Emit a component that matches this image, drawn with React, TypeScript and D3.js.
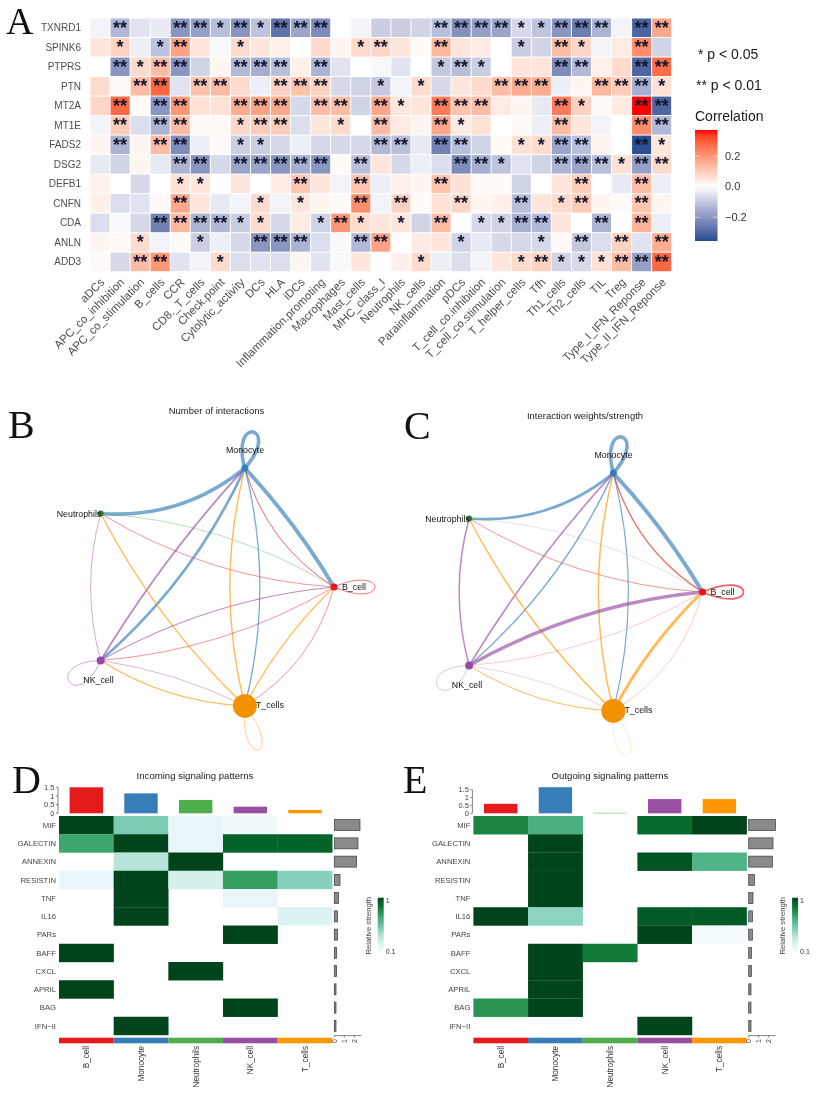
import React from "react";
import * as d3 from "d3";

// ---------- Panel A data ----------
const geneRows = ["TXNRD1","SPINK6","PTPRS","PTN","MT2A","MT1E","FADS2","DSG2","DEFB1","CNFN","CDA","ANLN","ADD3"];
const immuneCols = ["aDCs","APC_co_inhibition","APC_co_stimulation","B_cells","CCR","CD8._T_cells","Check.point","Cytolytic_activity","DCs","HLA","iDCs","Inflammation.promoting","Macrophages","Mast_cells","MHC_class_I","Neutrophils","NK_cells","Parainflammation","pDCs","T_cell_co.inhibition","T_cell_co.stimulation","T_helper_cells","Tfh","Th1_cells","Th2_cells","TIL","Treg","Type_I_IFN_Reponse","Type_II_IFN_Reponse"];

const TXNRD1 = [-0.02,-0.13,-0.05,-0.04,-0.2,-0.18,-0.12,-0.2,-0.11,-0.27,-0.17,-0.22,0,-0.02,-0.09,-0.09,-0.08,-0.12,-0.21,-0.18,-0.17,-0.07,-0.11,-0.2,-0.25,-0.14,-0.02,-0.3,0.17];
const SPINK6 = [0.05,0.09,-0.03,-0.11,0.18,0.05,-0.01,0.07,0.05,0.03,0,0.07,0.02,0.07,0.08,0.05,0.01,0.14,0.05,0.04,0,-0.09,-0.08,0.13,0.08,-0.02,0.04,0.22,-0.08];
const PTPRS = [0,-0.2,0.07,0.13,-0.2,-0.08,0.02,-0.13,-0.15,-0.12,0.03,-0.14,-0.05,0,-0.01,-0.05,0,-0.1,-0.12,-0.09,0,0.05,0.05,-0.22,-0.13,0.03,0.07,-0.3,0.27];
const PTN = [0.07,0.01,0.13,0.28,-0.05,0.12,0.13,0.07,-0.03,0.09,0.12,0.09,-0.07,-0.08,-0.1,-0.02,0.07,-0.07,0.05,0.07,0.13,0.16,0.16,-0.03,0.02,0.14,0.1,-0.15,0.06];
const MT2A = [0.08,0.28,0.01,-0.2,0.2,0.06,0.06,0.16,0.18,0.17,-0.07,0.13,0.13,-0.08,0.17,0.05,0.05,0.25,0.12,0.13,0.04,0.02,-0.04,0.25,0.09,0.01,0.04,0.37,-0.3];
const MT1E = [-0.02,0.1,-0.06,-0.14,0.13,0.01,0.01,0.08,0.1,0.1,-0.06,0.05,0.07,0,0.13,0.04,0.02,0.17,0.04,0.06,0,0.01,-0.03,0.13,0.05,-0.02,0,0.22,-0.13];
const FADS2 = [0.02,-0.14,0.02,0.13,-0.22,-0.03,0.01,-0.09,-0.09,-0.07,-0.03,-0.07,-0.07,-0.07,-0.13,-0.12,-0.04,-0.24,-0.12,-0.08,0.01,0.06,0.07,-0.17,-0.12,0.02,0,-0.35,0.05];
const DSG2 = [-0.04,-0.08,0.02,-0.04,-0.14,-0.2,-0.07,-0.17,-0.17,-0.2,-0.15,-0.2,0.01,-0.12,0.05,-0.07,-0.03,-0.06,-0.22,-0.15,-0.11,-0.05,-0.08,-0.14,-0.17,-0.12,0.06,-0.18,0.07];
const DEFB1 = [0.03,0,-0.07,0,0.06,0.05,0,0.05,0,0.04,0.11,0.05,-0.02,0.12,-0.03,0.03,0.02,0.12,0.06,0.01,0.01,-0.08,0,0.05,0.1,0,-0.04,0.13,-0.03];
const CNFN = [0.03,-0.06,-0.05,0.01,0.17,0.05,-0.04,-0.02,0.07,-0.02,0.05,0.02,0.01,0.22,-0.02,0.09,0.01,0.06,0.08,0.02,0.03,-0.12,0.05,0.07,0.1,0.02,0.01,0.11,0.02];
const CDA = [-0.06,-0.01,-0.07,-0.24,0.14,-0.14,-0.13,-0.09,0.07,-0.07,0.04,-0.08,0.2,0.07,0.05,0.05,-0.08,0.13,0,-0.07,-0.08,-0.15,-0.13,0.05,0,-0.14,0,0.15,-0.03];
const ANLN = [0.02,0.01,0.07,-0.02,0.01,-0.09,-0.03,-0.07,-0.2,-0.2,-0.14,-0.06,-0.01,-0.13,0.18,0,0.04,0.05,-0.08,-0.04,-0.07,-0.07,-0.07,0.01,-0.1,-0.06,0.09,-0.05,0.16];
const ADD3 = [0.01,-0.07,0.13,0.2,-0.05,-0.02,0.07,-0.06,-0.05,-0.06,0.02,-0.05,-0.01,0.05,0,0.03,0.07,-0.03,-0.06,-0.02,0.05,0.07,0.09,-0.08,-0.07,0.06,0.13,-0.18,0.28];
const corrRows = [TXNRD1,SPINK6,PTPRS,PTN,MT2A,MT1E,FADS2,DSG2,DEFB1,CNFN,CDA,ANLN,ADD3];

const sigTXNRD1 = [0,2,0,0,2,2,1,2,1,2,2,2,0,0,0,0,0,2,2,2,2,1,1,2,2,2,0,2,2];
const sigSPINK6 = [0,1,0,1,2,0,0,1,0,0,0,0,0,1,2,0,0,2,0,0,0,1,0,2,1,0,0,2,0];
const sigPTPRS = [0,2,1,2,2,0,0,2,2,2,0,2,0,0,0,0,0,1,2,1,0,0,0,2,2,0,0,2,2];
const sigPTN = [0,0,2,2,0,2,2,0,0,2,2,2,0,0,1,0,1,0,0,0,2,2,2,0,0,2,2,2,1];
const sigMT2A = [0,2,0,2,2,0,0,2,2,2,0,2,2,0,2,1,0,2,2,2,0,0,0,2,1,0,0,2,2];
const sigMT1E = [0,2,0,2,2,0,0,1,2,2,0,0,1,0,2,0,0,2,1,0,0,0,0,2,0,0,0,2,2];
const sigFADS2 = [0,2,0,2,2,0,0,1,1,0,0,0,0,0,2,2,0,2,2,0,0,1,1,2,2,0,0,2,1];
const sigDSG2 = [0,0,0,0,2,2,0,2,2,2,2,2,0,2,0,0,0,0,2,2,1,0,0,2,2,2,1,2,2];
const sigDEFB1 = [0,0,0,0,1,1,0,0,0,0,2,0,0,2,0,0,0,2,0,0,0,0,0,0,2,0,0,2,0];
const sigCNFN = [0,0,0,0,2,0,0,0,1,0,1,0,0,2,0,2,0,0,2,0,0,2,0,1,2,0,0,2,0];
const sigCDA = [0,0,0,2,2,2,2,1,1,0,0,1,2,1,0,1,0,2,0,1,1,2,2,0,0,2,0,2,0];
const sigANLN = [0,0,1,0,0,1,0,0,2,2,2,0,0,2,2,0,0,0,1,0,0,0,1,0,2,0,2,0,2];
const sigADD3 = [0,0,2,2,0,0,1,0,0,0,0,0,0,0,0,0,1,0,0,0,0,1,2,1,1,1,2,2,2];
const sigRows = [sigTXNRD1,sigSPINK6,sigPTPRS,sigPTN,sigMT2A,sigMT1E,sigFADS2,sigDSG2,sigDEFB1,sigCNFN,sigCDA,sigANLN,sigADD3];
const corrTicks = [0.2, 0, -0.2];

// ---------- Panels B/C data ----------
const cellTypes = ["B_cell","Monocyte","Neutrophils","NK_cell","T_cells"];
const cellColors = ["#e41a1c","#377eb8","#4daf4a","#984ea3","#ff9800"];
const nodeDotColors = ["#f01418","#2f7fc0","#2f7a33","#944ba0","#f29100"];
const nodeRadii = [3.5,3.5,3,4,12];
// [from, to] index pairs (all arcs bow to the left of travel)
const edgePairs = [[1,2],[1,0],[0,1],[2,0],[0,2],[3,1],[1,3],[3,2],[4,2],[4,1],[1,4],[3,0],[0,3],[4,0],[0,4],[4,3],[3,4]];
const edgeBow = [15,4,14,15,15,6,13,10,10,15,15,13,14,6,15,10,6];
const countWidths = [3.7,3.9,1,0.6,0.7,1.8,2.7,0.7,1.4,1.4,1.3,1.1,0.7,1.2,0.7,1.2,0.6];
const weightWidths = [2.6,3.9,1.3,0.35,0.7,1.6,1.4,1.5,1.5,1.5,1.2,3.4,0.35,3.1,0.35,1,0.35];
const countLoopWidths = [0.9,3.6,0,0.7,0.7];
const weightLoopWidths = [1.8,3.6,0,0.5,0.3];
const loopAngleDeg = [0,-77,0,146,73];
const loopLength = [41,37,0,38,46];
const loopSpread = [24,27,0,32,25];

// ---------- Panels D/E data ----------
const pathways = ["MIF","GALECTIN","ANNEXIN","RESISTIN","TNF","IL16","PARs","BAFF","CXCL","APRIL","BAG","IFN-II"];
const inBCell = [1,0.65,null,0.1,null,null,null,1,null,1,null,null];
const inMono = [0.45,1,0.3,1,1,1,null,null,null,null,null,1];
const inNeut = [0.1,0.1,1,0.2,null,null,null,null,1,null,null,null];
const inNK = [0.04,0.9,null,0.68,0.1,null,1,null,null,null,1,null];
const inT = [null,0.9,null,0.42,null,0.16,null,null,null,null,null,null];
const outBCell = [0.78,null,null,null,null,1,null,null,null,null,0.72,null];
const outMono = [0.6,1,1,1,1,0.4,null,1,1,1,1,null];
const outNeut = [null,null,null,null,null,null,null,0.82,null,null,null,null];
const outNK = [0.88,null,0.95,null,null,0.93,1,null,null,null,null,1];
const outT = [1,null,0.58,null,null,0.93,0.02,null,null,null,null,null];
const inTop = [1.5,1.15,0.77,0.38,0.19];
const outTop = [0.6,1.65,0.03,0.9,0.9];
const inRight = [2.57,2.37,2.23,0.57,0.43,0.33,0.33,0.23,0.23,0.17,0.17,0.17];
const outRight = [2.67,2.43,2.37,0.57,0.43,0.37,0.37,0.27,0.27,0.23,0.23,0.23];
const topTicks = [0,0.5,1,1.5];
const rightTicks = [0,1,2];

const SANS = "'Liberation Sans', Arial, sans-serif";
const SERIF = "'Liberation Serif', serif";

const corrColor = d3.scaleLinear<string>().domain([-0.36,0,0.37]).range(["#1f4b91","#ffffff","#ff0000"]).interpolate(d3.interpolateLab);

function PanelA() {
  const x = d3.scaleBand().domain(immuneCols).range([90,671.7]);
  const y = d3.scaleBand().domain(geneRows).range([18,271.7]);
  const barY = d3.scaleLinear().domain([0.37,-0.355]).range([130,241]);
  const stops = d3.range(0,1.001,0.05);
  return (
    <g fontFamily={SANS}>
      <defs>
        <linearGradient id="corrGrad" x1="0" x2="0" y1="0" y2="1">
          {stops.map((t)=>(<stop key={t} offset={t} stopColor={corrColor(barY.invert(130+t*111))}/>))}
        </linearGradient>
      </defs>
      {geneRows.map((g,r)=>(
        <g key={g}>
          <text x={81} y={y(g)!+y.bandwidth()/2+3.4} textAnchor="end" fontSize={10} fill="#4d4d4d">{g}</text>
          {immuneCols.map((c,i)=>(
            <g key={c}>
              <rect x={x(c)!+0.5} y={y(g)!+0.5} width={x.bandwidth()-1} height={y.bandwidth()-1} fill={corrColor(corrRows[r][i])}/>
              {sigRows[r][i]>0 && (
                <text x={x(c)!+x.bandwidth()/2} y={y(g)!+15.8} textAnchor="middle" fontSize={18} fontWeight="bold" fill="#14162a">{"*".repeat(sigRows[r][i])}</text>
              )}
            </g>
          ))}
        </g>
      ))}
      {immuneCols.map((c)=>{
        const px = x(c)!+x.bandwidth()/2+5, py = 283;
        return <text key={c} transform={`translate(${px},${py}) rotate(-45)`} textAnchor="end" fontSize={11.5} fill="#4d4d4d">{c}</text>;
      })}
      <text x={698} y={59} fontSize={14} fill="#1a1a1a">* p &lt; 0.05</text>
      <text x={696} y={90} fontSize={14} fill="#1a1a1a">** p &lt; 0.01</text>
      <text x={695} y={121} fontSize={14} fill="#1a1a1a">Correlation</text>
      <rect x={695} y={130} width={22.5} height={111} fill="url(#corrGrad)"/>
      {corrTicks.map((t)=>(
        <g key={t}>
          <line x1={695} x2={699.5} y1={barY(t)} y2={barY(t)} stroke="#fff" strokeWidth={0.6}/>
          <line x1={713} x2={717.5} y1={barY(t)} y2={barY(t)} stroke="#fff" strokeWidth={0.6}/>
          <text x={725} y={barY(t)+3.8} fontSize={11} fill="#333">{t===0?"0.0":d3.format(".1f")(t).replace("-","\u2212")}</text>
        </g>
      ))}
    </g>
  );
}

function Network({dx,dy,title,tx,ty,widths,loopWidths}:{dx:number,dy:number,title:string,tx:number,ty:number,widths:number[],loopWidths:number[]}) {
  const sx = d3.scaleLinear().domain([-1,1]).range([76+dx,334+dx]);
  const sy = d3.scaleLinear().domain([-1,1]).range([462+dy,712+dy]);
  const nodes = cellTypes.map((_,i)=>{
    const a = (i*72)*Math.PI/180;
    return {x:sx(Math.cos(a)), y:sy(-Math.sin(a))};
  });
  const arc = (a:number,b:number,h:number)=>{
    const A=nodes[a],B=nodes[b];
    const ddx=B.x-A.x,ddy=B.y-A.y,len=Math.hypot(ddx,ddy);
    const nx=ddy/len,ny=-ddx/len;
    const p=d3.path();
    p.moveTo(A.x,A.y);
    p.quadraticCurveTo((A.x+B.x)/2+2*h*nx,(A.y+B.y)/2+2*h*ny,B.x,B.y);
    return p.toString();
  };
  const loop = (i:number)=>{
    const n=nodes[i],a=loopAngleDeg[i]*Math.PI/180,L=loopLength[i]*4/3,W=loopSpread[i];
    const ux=Math.cos(a),uy=Math.sin(a),vx=-uy,vy=ux;
    const p=d3.path();
    p.moveTo(n.x,n.y);
    p.bezierCurveTo(n.x+L*ux+W*vx,n.y+L*uy+W*vy,n.x+L*ux-W*vx,n.y+L*uy-W*vy,n.x,n.y);
    return p.toString();
  };
  const labels:[number,number,string][] = [[342,587,"start"],[245,450,"middle"],[79,514,"middle"],[98.5,680,"middle"],[256,705,"start"]];
  return (
    <g fontFamily={SANS}>
      <text x={tx} y={ty} textAnchor="middle" fontSize={9.5} fill="#222">{title}</text>
      {edgePairs.map(([a,b],i)=>(
        <path key={i} d={arc(a,b,edgeBow[i])} fill="none" stroke={cellColors[a]} strokeOpacity={0.66} strokeWidth={widths[i]}/>
      ))}
      {cellTypes.map((_,i)=>loopWidths[i]>0 && (
        <path key={i} d={loop(i)} fill="none" stroke={cellColors[i]} strokeOpacity={0.66} strokeWidth={loopWidths[i]}/>
      ))}
      {nodes.map((n,i)=>(<circle key={i} cx={n.x} cy={n.y} r={nodeRadii[i]} fill={nodeDotColors[i]}/>))}
      {cellTypes.map((c,i)=>(
        <text key={c} x={labels[i][0]+dx} y={labels[i][1]+dy+3} textAnchor={labels[i][2] as any} fontSize={8.8} fill="#111">{c}</text>
      ))}
    </g>
  );
}

function SignalHeat({left,title,titleX,matrix,top,right,gid}:{left:number,title:string,titleX:number,matrix:(number|null)[][],top:number[],right:number[],gid:string}) {
  const x = d3.scaleBand().domain(cellTypes).range([left,left+273.3]);
  const y = d3.scaleBand().domain(pathways).range([816,1035]);
  const topMax = gid==="in"?1.5:1.65;
  const topUnit = gid==="in"?17.33:15.8;
  const ty = d3.scaleLinear().domain([0,topMax]).range([813.3,813.3-topMax*topUnit]);
  const rx = d3.scaleLinear().domain([0,2]).range([left+275.3,left+295.3]);
  const axisX = left-1;
  const legendX = left+318.7;
  return (
    <g fontFamily={SANS}>
      <defs>
        <linearGradient id={gid} x1="0" x2="0" y1="1" y2="0">
          {d3.range(0,1.001,0.1).map((t)=>(<stop key={t} offset={t} stopColor={d3.interpolateBuGn(t)}/>))}
        </linearGradient>
      </defs>
      <text x={titleX} y={778.8} textAnchor="middle" fontSize={9.6} fill="#222">{title}</text>
      {cellTypes.map((c,i)=>(
        <g key={c}>
          <rect x={x(c)!+x.bandwidth()/2-16.7} y={ty(top[i])} width={33.4} height={Math.max(ty(0)-ty(top[i]),0.5)} fill={cellColors[i]}/>
          <rect x={x(c)} y={1037.7} width={x.bandwidth()} height={5.6} fill={cellColors[i]}/>
          <text transform={`translate(${x(c)!+x.bandwidth()/2+3},1046) rotate(-90)`} textAnchor="end" fontSize={8.2} fill="#333">{c}</text>
        </g>
      ))}
      <line x1={axisX} x2={axisX} y1={ty(0)} y2={ty(1.5)} stroke="#333" strokeWidth={0.6}/>
      {topTicks.map((t)=>(
        <g key={t}>
          <line x1={axisX-2} x2={axisX} y1={ty(t)} y2={ty(t)} stroke="#333" strokeWidth={0.6}/>
          <text x={axisX-3.5} y={ty(t)+2.6} textAnchor="end" fontSize={7.5} fill="#444">{t}</text>
        </g>
      ))}
      {pathways.map((p,r)=>(
        <g key={p}>
          <text x={left-3} y={y(p)!+y.bandwidth()/2+2.7} textAnchor="end" fontSize={7.7} fill="#444">{p.replace("-","\u2212")}</text>
          {cellTypes.map((c,i)=>{
            const v=matrix[i][r];
            return v==null?null:<rect key={c} x={x(c)} y={y(p)} width={x.bandwidth()+0.2} height={y.bandwidth()+0.2} fill={d3.interpolateBuGn(v)}/>;
          })}
          <rect x={rx(0)} y={y(p)!+y.bandwidth()/2-5.5} width={Math.max(rx(right[r])-rx(0),1)} height={11} fill="#8a8a8a" stroke="#3a3a3a" strokeWidth={0.7}/>
        </g>
      ))}
      <line x1={rx(0)} x2={rx(2.7)} y1={1035.6} y2={1035.6} stroke="#333" strokeWidth={0.6}/>
      {rightTicks.map((t)=>(
        <g key={t}>
          <line x1={rx(t)} x2={rx(t)} y1={1035.6} y2={1037.6} stroke="#333" strokeWidth={0.6}/>
          <text transform={`translate(${rx(t)+2.3},1039) rotate(-90)`} textAnchor="end" fontSize={7} fill="#444">{t}</text>
        </g>
      ))}
      <text transform={`translate(${legendX-7},925.7) rotate(-90)`} textAnchor="middle" fontSize={7.7} fill="#444">Relative strength</text>
      <rect x={legendX} y={897.7} width={6} height={55} fill={`url(#${gid})`}/>
      <text x={legendX+8} y={903} fontSize={7} fill="#333">1</text>
      <text x={legendX+8} y={953.5} fontSize={7} fill="#333">0.1</text>
    </g>
  );
}

const panelLetters:[string,number,number,number][] = [["A",6,34,38],["B",8,438,40],["C",404,439,40],["D",12,793,40],["E",403,793,40]];

export default function App() {
  return (
    <svg width={818} height={1094} style={{position:"absolute",left:0,top:0,background:"#fff",filter:"blur(0.35px)"}}>
      {panelLetters.map(([l,px,py,fs])=>(
        <text key={l} x={px} y={py} fontFamily={SERIF} fontSize={fs} fill="#111">{l}</text>
      ))}
      <PanelA/>
      <Network dx={0} dy={0} title="Number of interactions" tx={216.5} ty={414} widths={countWidths} loopWidths={countLoopWidths}/>
      <Network dx={368.5} dy={5} title="Interaction weights/strength" tx={585} ty={418.5} widths={weightWidths} loopWidths={weightLoopWidths}/>
      <SignalHeat gid="in" left={59} title="Incoming signaling patterns" titleX={195} matrix={[inBCell,inMono,inNeut,inNK,inT]} top={inTop} right={inRight}/>
      <SignalHeat gid="out" left={473.4} title="Outgoing signaling patterns" titleX={610} matrix={[outBCell,outMono,outNeut,outNK,outT]} top={outTop} right={outRight}/>
    </svg>
  );
}
